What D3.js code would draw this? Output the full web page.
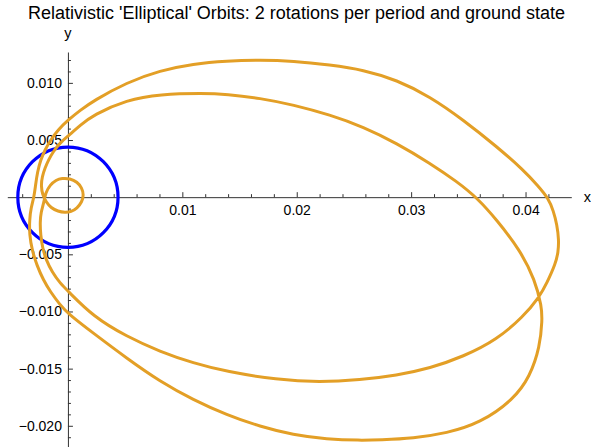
<!DOCTYPE html>
<html>
<head>
<meta charset="utf-8">
<script src="https://cdn.jsdelivr.net/npm/d3@7"></script>
<style>
  body { margin: 0; background: #fff; }
  text { font-family: "Liberation Sans", Arial, sans-serif; fill: #000; }
  .axis path, .axis line { stroke: #333; }
</style>
</head>
<body>
<div id="chart"></div>
<script>
var svgWidth = 591;
var svgHeight = 447;

var title = "Relativistic 'Elliptical' Orbits: 2 rotations per period and ground state";

// orbit trace (x, y), one closed loop
var orbitX = [
  0.00003, 0.00106, 0.00222, 0.00514, 0.00805, 0.01096, 0.01388, 0.01679, 0.01970, 0.02291,
  0.02582, 0.02874, 0.03165, 0.03456, 0.03748, 0.03980, 0.04109, 0.04199, 0.04244, 0.04275,
  0.04291, 0.04286, 0.04262, 0.04187, 0.04120, 0.03980, 0.03748, 0.03456, 0.03165, 0.02874,
  0.02553, 0.02203, 0.01825, 0.01388, 0.01096, 0.00805, 0.00514, 0.00222, 0.00003, -0.00069,
  -0.00139, -0.00191, -0.00222, -0.00239, -0.00244, -0.00235, -0.00213, -0.00196, -0.00156, -0.00104,
  -0.00052, 0.00018, 0.00080, 0.00123, 0.00138, 0.00123, 0.00080, 0.00027, -0.00025, -0.00087,
  -0.00148, -0.00191, -0.00222, -0.00235, -0.00226, -0.00200, -0.00170, -0.00128, -0.00069, 0.00003,
  0.00106, 0.00222, 0.00514, 0.00805, 0.01183, 0.01388, 0.01679, 0.01970, 0.02291, 0.02582,
  0.02874, 0.03165, 0.03398, 0.03580, 0.03748, 0.03951, 0.04083, 0.04141, 0.04146, 0.04126,
  0.04039, 0.03893, 0.03602, 0.03311, 0.03019, 0.02728, 0.02553, 0.02262, 0.01970, 0.01679,
  0.01388, 0.01096, 0.00805, 0.00514, 0.00222, 0.00003, -0.00069, -0.00156, -0.00213, -0.00270,
  -0.00314, -0.00336, -0.00336, -0.00323, -0.00296, -0.00283, -0.00266, -0.00239, -0.00200, -0.00156,
  -0.00087
];
var orbitY = [
  0.00676, 0.00759, 0.00843, 0.01004, 0.01108, 0.01166, 0.01192, 0.01201, 0.01192, 0.01157,
  0.01114, 0.01026, 0.00880, 0.00676, 0.00443, 0.00239, 0.00099, -0.00009, -0.00120, -0.00242,
  -0.00374, -0.00479, -0.00584, -0.00750, -0.00875, -0.01045, -0.01248, -0.01395, -0.01496, -0.01559,
  -0.01598, -0.01619, -0.01598, -0.01526, -0.01452, -0.01351, -0.01220, -0.01045, -0.00824, -0.00752,
  -0.00654, -0.00549, -0.00444, -0.00330, -0.00216, -0.00129, -0.00059, 0.00038, 0.00108, 0.00151,
  0.00166, 0.00164, 0.00134, 0.00081, 0.00020, -0.00041, -0.00098, -0.00129, -0.00135, -0.00124,
  -0.00094, -0.00041, 0.00020, 0.00099, 0.00178, 0.00256, 0.00326, 0.00399, 0.00475, 0.00536,
  0.00628, 0.00720, 0.00851, 0.00901, 0.00910, 0.00901, 0.00866, 0.00808, 0.00720, 0.00615,
  0.00472, 0.00297, 0.00138, -0.00009, -0.00199, -0.00461, -0.00724, -0.00957, -0.01074, -0.01307,
  -0.01570, -0.01773, -0.01977, -0.02065, -0.02109, -0.02123, -0.02128, -0.02117, -0.02080, -0.02007,
  -0.01905, -0.01773, -0.01613, -0.01409, -0.01190, -0.01021, -0.00942, -0.00824, -0.00728, -0.00601,
  -0.00461, -0.00330, -0.00199, -0.00094, 0.00003, 0.00108, 0.00221, 0.00326, 0.00414, 0.00493,
  0.00589
];

// ground state circle
var groundCenter = [0, 0];
var groundRadius = 0.00438;

var xMajorTicks = [0.01, 0.02, 0.03, 0.04];
var xMinorTicks = [-0.004, -0.002, 0.002, 0.004, 0.006, 0.008, 0.012, 0.014, 0.016, 0.018,
  0.022, 0.024, 0.026, 0.028, 0.032, 0.034, 0.036, 0.038, 0.042];
var yMajorTicks = [0.010, 0.005, -0.005, -0.010, -0.015, -0.020];
var yMinorTicks = [0.012, 0.011, 0.009, 0.008, 0.007, 0.006, 0.004, 0.003, 0.002, 0.001,
  -0.001, -0.002, -0.003, -0.004, -0.006, -0.007, -0.008, -0.009, -0.011, -0.012, -0.013, -0.014,
  -0.016, -0.017, -0.018, -0.019, -0.021];

var svg = d3.select("#chart")
  .append("svg")
  .attr("width", svgWidth)
  .attr("height", svgHeight);

var xScale = d3.scaleLinear()
  .domain([-0.0053, 0.044])
  .range([7.3, 571.3]);

var yScale = d3.scaleLinear()
  .domain([0.0127, -0.0219])
  .range([52, 447.5]);

// axes cross at the origin
var xAxisG = svg.append("g")
  .attr("class", "axis")
  .attr("transform", `translate(0, ${yScale(0)})`);

xAxisG.call(d3.axisBottom(xScale)
  .tickValues(xMajorTicks)
  .tickSizeInner(-5)
  .tickSizeOuter(0)
  .tickPadding(8)
  .tickFormat(d3.format(".2f")));

xAxisG.append("g").call(d3.axisBottom(xScale)
  .tickValues(xMinorTicks)
  .tickSizeInner(-3)
  .tickSizeOuter(0)
  .tickFormat(""))
  .select(".domain").remove();

var yAxisG = svg.append("g")
  .attr("class", "axis")
  .attr("transform", `translate(${xScale(0)}, 0)`);

yAxisG.call(d3.axisLeft(yScale)
  .tickValues(yMajorTicks)
  .tickSizeInner(-5)
  .tickSizeOuter(0)
  .tickPadding(6)
  .tickFormat(d3.format(".3f")));

yAxisG.append("g").call(d3.axisLeft(yScale)
  .tickValues(yMinorTicks)
  .tickSizeInner(-3)
  .tickSizeOuter(0)
  .tickFormat(""))
  .select(".domain").remove();

svg.selectAll(".axis text")
  .style("font-size", "14px");

svg.selectAll(".axis line")
  .attr("stroke", "#333");

// axis names
svg.append("text")
  .attr("x", xScale(0.044) + 16)
  .attr("y", yScale(0) + 5)
  .attr("text-anchor", "middle")
  .style("font-size", "14.5px")
  .text("x");

svg.append("text")
  .attr("x", xScale(0))
  .attr("y", 38)
  .attr("text-anchor", "middle")
  .style("font-size", "14.5px")
  .text("y");

svg.append("text")
  .attr("x", 296.5)
  .attr("y", 18.5)
  .attr("text-anchor", "middle")
  .style("font-size", "18px")
  .text(title);

// ground state
svg.append("circle")
  .attr("cx", xScale(groundCenter[0]))
  .attr("cy", yScale(groundCenter[1]))
  .attr("r", xScale(groundRadius) - xScale(0))
  .attr("fill", "none")
  .attr("stroke", "#0000ff")
  .attr("stroke-width", 3.2);

// orbit
var orbit = orbitX.map((x, i) => [x, orbitY[i]]);

var line = d3.line()
  .x(d => xScale(d[0]))
  .y(d => yScale(d[1]))
  .curve(d3.curveBasisClosed);

svg.append("path")
  .datum(orbit)
  .attr("d", line)
  .attr("fill", "none")
  .attr("stroke", "#e39f26")
  .attr("stroke-width", 3)
  .attr("stroke-linejoin", "round");
</script>
</body>
</html>
